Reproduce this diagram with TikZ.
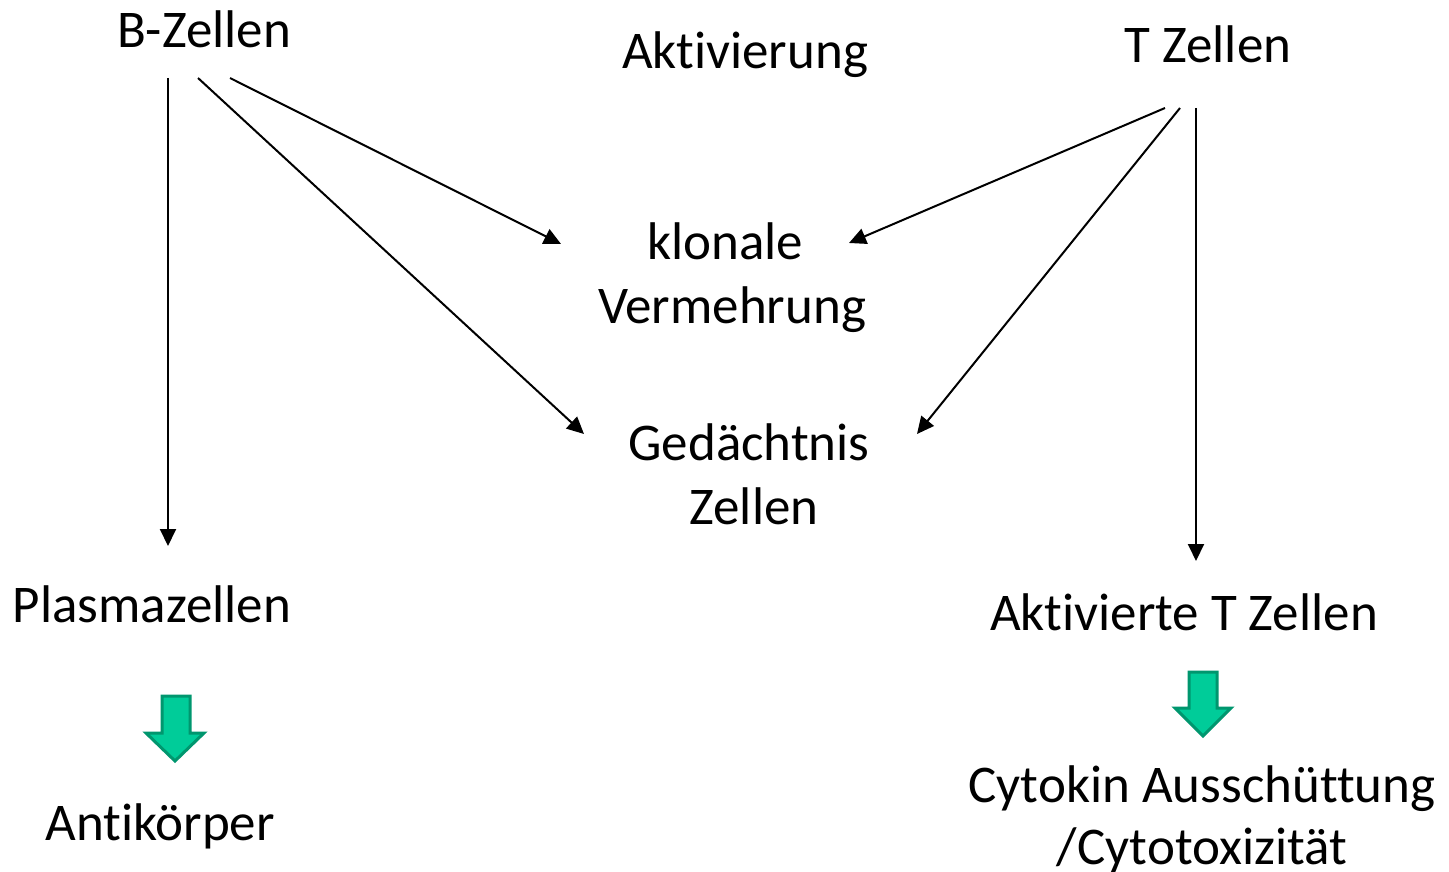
\documentclass[tikz,border=0pt]{standalone}
\usepackage{fontspec}
\setmainfont[RawFeature={-liga;-clig;-dlig;-calt;-rlig}]{Carlito}
\usetikzlibrary{arrows.meta}
\definecolor{blockfill}{RGB}{0,204,153}
\definecolor{blockedge}{RGB}{0,150,110}
\tikzset{
  lbl/.style={anchor=base, inner sep=0pt, font=\fontsize{53}{63}\selectfont},
  link/.style={line width=2pt, -{Triangle[length=17pt,width=16pt]}},
  blockarrow/.style={fill=blockfill, draw=blockedge, line width=3pt, line join=miter}
}
\begin{document}
\begin{tikzpicture}[x=1pt,y=-1pt]
\useasboundingbox (0,0) rectangle (1449,872);

% labels
\node[lbl] (bz) at (204,48) {B-Zellen};
\node[lbl] (akt) at (745,69) {Aktivierung};
\node[lbl] (tz) at (1208,63) {T Zellen};
\node[lbl] (klon) at (725,259) {klonale};
\node[lbl] (verm) at (732,323) {Vermehrung};
\node[lbl] (ged) at (749,460) {Gedächtnis};
\node[lbl] (gedz) at (754,524) {Zellen};
\node[lbl] (plasma) at (152,622) {Plasmazellen};
\node[lbl] (ak) at (160,840) {Antikörper};
\node[lbl] (aktt) at (1184,630) {Aktivierte T Zellen};
\node[lbl] (cyto) at (1202,802) {Cytokin Ausschüttung};
\node[lbl] (ctox) at (1202,864) {/Cytotoxizität};

% connector ends
\coordinate (b1) at (168,78);
\coordinate (b2) at (198,78);
\coordinate (b3) at (230,78);
\coordinate (t1) at (1165,108);
\coordinate (t2) at (1180,108);
\coordinate (t3) at (1196,108);
\coordinate (plasmaIn) at (168,546);
\coordinate (gedL) at (584,434);
\coordinate (klonL) at (561,244);
\coordinate (klonR) at (849,243);
\coordinate (gedR) at (917,434);
\coordinate (akttIn) at (1196,561);

% connectors
\draw[link] (b1) -- (plasmaIn);
\draw[link] (b2) -- (gedL);
\draw[link] (b3) -- (klonL);
\draw[link] (t1) -- (klonR);
\draw[link] (t2) -- (gedR);
\draw[link] (t3) -- (akttIn);

% block arrows
\draw[blockarrow] (162,696) -- (190,696) -- (190,733) -- (204,733) -- (175,761)
  -- (146,733) -- (162,733) -- cycle;
\draw[blockarrow] (1189,672) -- (1217,672) -- (1217,708) -- (1231,708) -- (1203,736)
  -- (1175,708) -- (1189,708) -- cycle;
\end{tikzpicture}
\end{document}
